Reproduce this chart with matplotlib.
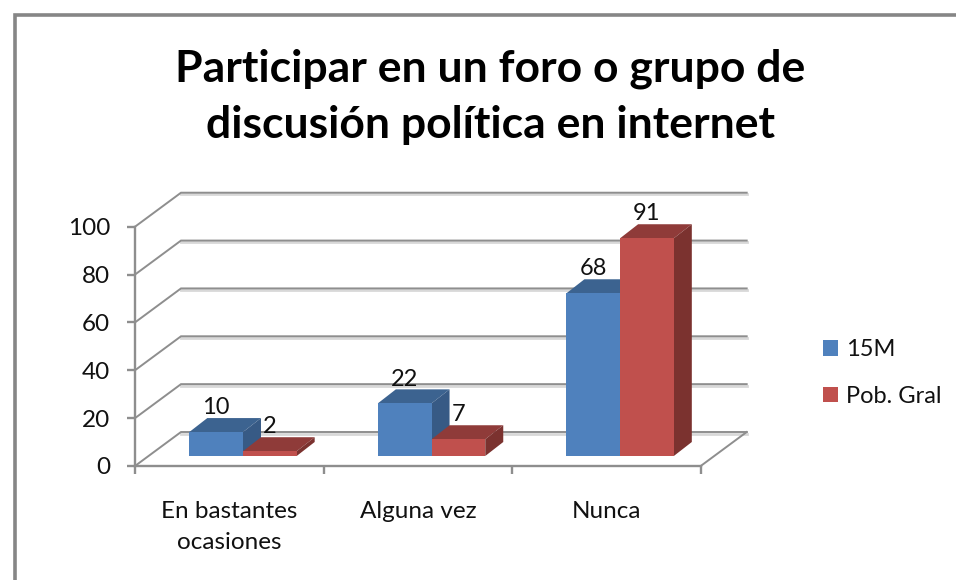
import matplotlib
matplotlib.use("Agg")
import matplotlib.pyplot as plt
from matplotlib.patches import Polygon, Patch

plt.rcParams['font.family'] = ['Lato', 'DejaVu Sans']

title = "Participar en un foro o grupo de\ndiscusión política en internet"
categories = ["En bastantes\nocasiones", "Alguna vez", "Nunca"]
series_names = ["15M", "Pob. Gral"]
values_15m = [10, 22, 68]
values_pob = [2, 7, 91]
y_ticks = [0, 20, 40, 60, 80, 100]

W, H = 956, 580
fig = plt.figure(figsize=(W / 100, H / 100), dpi=100, facecolor="white")

# outer chart border (open on the right and bottom, as cropped)
fig.add_artist(plt.Line2D([14.5 / W, 14.5 / W, 1], [0, 1 - 14.5 / H, 1 - 14.5 / H],
                          transform=fig.transFigure, color="#868686", lw=2.6,
                          solid_joinstyle="miter"))

L, R, T, B = 135, 700.7, 226.7, 466
ax = fig.add_axes([L / W, 1 - B / H, (R - L) / W, (B - T) / H])
ax.set_xlim(0, 3)
ax.set_ylim(0, 100)
ax.patch.set_alpha(0)

px_x = 3 / (R - L)        # data units per pixel, x
px_y = 100 / (B - T)      # data units per pixel, y
DX, DY = 46 * px_x, 34 * px_y          # full floor depth
BDX, BDY = 13.7 * px_x, 10 * px_y      # bar front plane offset
SDX, SDY = 18 * px_x, 14 * px_y        # bar depth
BW = 53.7 * px_x                       # bar width

GRID = "#8E8E8E"
HALO = "#D8D8D8"

# back wall gridlines and side-wall diagonals
for t in y_ticks:
    ax.plot([3 + DX, DX], [t + DY - 0.7, t + DY - 0.7], color=HALO, lw=2.0, clip_on=False, zorder=1)
    ax.plot([0, DX, 3 + DX], [t, t + DY, t + DY], color=GRID, lw=1.4, clip_on=False, zorder=1.5,
            solid_joinstyle="miter")
ax.plot([3, 3 + DX], [0, DY], color=GRID, lw=1.4, clip_on=False, zorder=1.5)

colors = {
    0: ("#4F81BD", "#3C6390", "#375A85"),
    1: ("#C0504D", "#8F3B39", "#7B322F"),
}


def draw_bar(x0, v, k, z):
    front, top, side = colors[k]
    y0 = BDY
    y1 = v + BDY
    x1 = x0 + BW
    ax.bar(x0, v, width=BW, bottom=y0, align="edge", color=front, lw=0,
           zorder=z + 0.2, clip_on=False)
    ax.add_patch(Polygon([(x0, y1), (x1, y1), (x1 + SDX, y1 + SDY), (x0 + SDX, y1 + SDY)],
                         closed=True, fc=top, ec="none", zorder=z, clip_on=False))
    ax.add_patch(Polygon([(x1, y0), (x1 + SDX, y0 + SDY), (x1 + SDX, y1 + SDY), (x1, y1)],
                         closed=True, fc=side, ec="none", zorder=z, clip_on=False))
    ax.annotate(str(v), (x0 + BW / 2, y1), xytext=(0, 17.5), textcoords="offset points",
                ha="center", va="center", fontsize=17, color="#111111", zorder=20,
                annotation_clip=False)


for i, (a, b) in enumerate(zip(values_15m, values_pob)):
    centre = i + 0.5 + BDX
    draw_bar(centre - BW, a, 0, 3 + i)
    draw_bar(centre, b, 1, 3.5 + i)

# axes
for s in ("top", "right"):
    ax.spines[s].set_visible(False)
for s in ("left", "bottom"):
    ax.spines[s].set_color(GRID)
    ax.spines[s].set_linewidth(1.7)
    ax.spines[s].set_zorder(2)

ax.set_yticks(y_ticks)
ax.set_xticks([0, 1, 2, 3])
ax.set_xticklabels([])
ax.set_xticks([0.5, 1.5, 2.5], labels=categories, minor=True)
ax.tick_params(axis="y", length=6, width=1.7, color=GRID, labelsize=17.5, pad=12, labelcolor="#111111")
ax.tick_params(axis="x", which="major", length=6, width=1.7, color=GRID)
ax.tick_params(axis="x", which="minor", length=0, labelsize=17.5, pad=25, labelcolor="#111111")
for lab in ax.get_xticklabels(minor=True):
    lab.set_linespacing(1.6)
    lab.set_va("top")

# title
fig.text(490 / W, 1 - 97 / H, title, ha="center", va="center", fontsize=32,
         fontweight="bold", color="#000000", linespacing=1.48)

# legend
handles = [Patch(fc=colors[0][0], ec="none"), Patch(fc=colors[1][0], ec="none")]
fig.legend(handles, series_names, loc="center left", bbox_to_anchor=(816 / W, 1 - 373 / H),
           frameon=False, fontsize=17, handlelength=0.64, handleheight=0.64,
           handletextpad=0.34, labelspacing=1.1, borderaxespad=0, borderpad=0.3,
           labelcolor="#111111")

fig.savefig("out.png", dpi=100)
